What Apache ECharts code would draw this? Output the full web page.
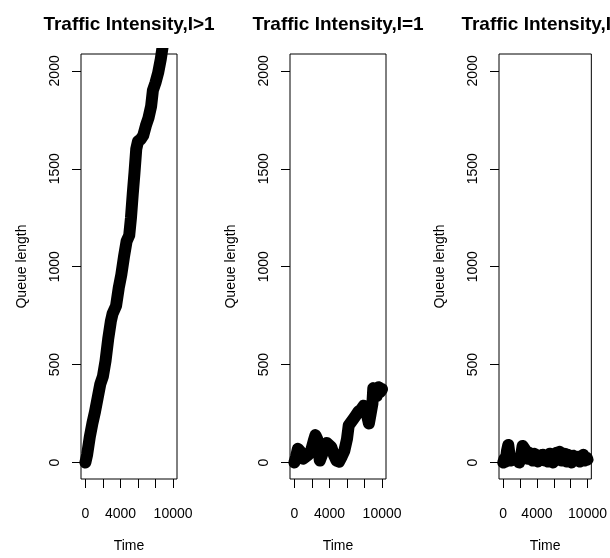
<!DOCTYPE html>
<html>
<head>
<meta charset="utf-8">
<script src="https://cdn.jsdelivr.net/npm/echarts@6/dist/echarts.min.js"></script>
<style>
  html, body { margin: 0; padding: 0; background: #fff; }
  #chart { width: 610px; height: 558px; }
</style>
</head>
<body>
<div id="chart"></div>
<script>
// panel titles
const titles = ['Traffic Intensity,I>1', 'Traffic Intensity,I=1', 'Traffic Intensity,I<1']

// axis ticks / labels
const xTicks = [0, 2000, 4000, 6000, 8000, 10000]
const xLabels = [0, 4000, 10000]
const yTicks = [0, 500, 1000, 1500, 2000]

// I>1 : queue keeps growing
const time1 = [0, 200, 500, 800, 1100, 1400, 1700, 2000, 2300, 2600, 2900, 3100, 3300, 3500, 3800, 4100, 4400, 4700, 5000, 5200, 5400, 5600, 5800, 6000, 6300, 6600, 6900, 7200, 7500, 7700, 8000, 8300, 8600, 8900]
const queue1 = [0, 40, 130, 200, 260, 330, 400, 440, 520, 630, 720, 760, 750, 800, 890, 960, 1050, 1130, 1160, 1250, 1370, 1480, 1600, 1640, 1650, 1670, 1720, 1760, 1820, 1900, 1940, 1990, 2060, 2150]

// I=1 : slow drift
const time2 = [0, 200, 400, 600, 800, 1000, 1300, 1600, 1900, 2200, 2400, 2600, 2900, 3100, 3400, 3700, 3900, 4200, 4500, 4800, 5100, 5400, 5700, 6000, 6200, 6400, 6700, 7000, 7300, 7600, 7900, 8200, 8500, 8700, 8900, 9000, 9200, 9400, 9600, 9800, 10000]
const queue2 = [0, 30, 70, 80, 50, 20, 30, 40, 60, 110, 140, 120, 10, 20, 70, 100, 90, 80, 40, 10, 5, 30, 60, 120, 190, 200, 220, 240, 260, 270, 290, 260, 200, 250, 300, 380, 390, 340, 385, 360, 375]

// I<1 : stays near zero
const time3 = [0, 150, 300, 450, 600, 750, 900, 1100, 1300, 1500, 1700, 1900, 2100, 2300, 2500, 2700, 2900, 3100, 3300, 3500, 3700, 3900, 4100, 4300, 4500, 4700, 4900, 5100, 5300, 5500, 5700, 5900, 6100, 6300, 6500, 6700, 6900, 7100, 7300, 7500, 7700, 7900, 8100, 8300, 8500, 8700, 8900, 9100, 9300, 9500, 9700, 9900, 10000]
const queue3 = [0, 20, 5, 60, 90, 40, 10, 0, 15, 5, 20, 0, 30, 85, 90, 60, 20, 50, 40, 10, 45, 20, 5, 35, 15, 40, 10, 30, 5, 45, 15, 0, 30, 50, 20, 55, 10, 25, 45, 5, 40, 15, 0, 35, 45, 10, 30, 5, 20, 40, 10, 25, 15]

const times = [time1, time2, time3]
const queues = [queue1, queue2, queue3]
const lefts = [81, 290, 499]
const font = 'Liberation Sans, Arial, sans-serif'

const chart = echarts.init(document.getElementById('chart'))

const option = {
    animation: false,
    backgroundColor: '#fff',
    title: titles.map((t, i) => ({
        text: t,
        left: lefts[i] + 48,
        top: 15,
        padding: 0,
        textAlign: 'center',
        textStyle: { fontFamily: font, fontSize: 19, fontWeight: 'bold', color: '#000' }
    })),
    grid: lefts.map(l => ({
        left: l,
        top: 54,
        width: 96,
        height: 428,
        show: true,
        borderColor: '#000',
        borderWidth: 1,
        backgroundColor: 'transparent'
    })),
    xAxis: lefts.map((l, i) => ({
        type: 'value',
        gridIndex: i,
        position: 'bottom',
        min: -500,
        max: 10450,
        name: 'Time',
        nameLocation: 'middle',
        nameGap: 60,
        nameTextStyle: { fontFamily: font, fontSize: 14, color: '#000' },
        axisLine: { show: false, onZero: false },
        axisTick: {
            show: true,
            length: 9,
            customValues: xTicks,
            lineStyle: { color: '#000', width: 1 }
        },
        axisLabel: {
            customValues: xLabels,
            formatter: v => String(v),
            margin: 28,
            fontFamily: font,
            fontSize: 14,
            color: '#000'
        },
        splitLine: { show: false }
    })),
    yAxis: lefts.map((l, i) => ({
        type: 'value',
        gridIndex: i,
        position: 'left',
        min: -84,
        max: 2086,
        name: 'Queue length',
        nameLocation: 'middle',
        nameGap: 52,
        nameTextStyle: { fontFamily: font, fontSize: 14, color: '#000' },
        axisLine: { show: false, onZero: false },
        axisTick: {
            show: true,
            length: 9,
            customValues: yTicks,
            lineStyle: { color: '#000', width: 1 }
        },
        axisLabel: {
            customValues: yTicks,
            formatter: v => String(v),
            rotate: 90,
            margin: 19,
            fontFamily: font,
            fontSize: 14,
            color: '#000'
        },
        splitLine: { show: false }
    })),
    series: times.map((t, i) => ({
        type: 'line',
        xAxisIndex: i,
        yAxisIndex: i,
        showSymbol: false,
        clip: true,
        lineStyle: { color: '#000', width: 12, cap: 'round', join: 'round' },
        data: t.map((x, j) => [x, queues[i][j]])
    }))
}

chart.setOption(option)
</script>
</body>
</html>
